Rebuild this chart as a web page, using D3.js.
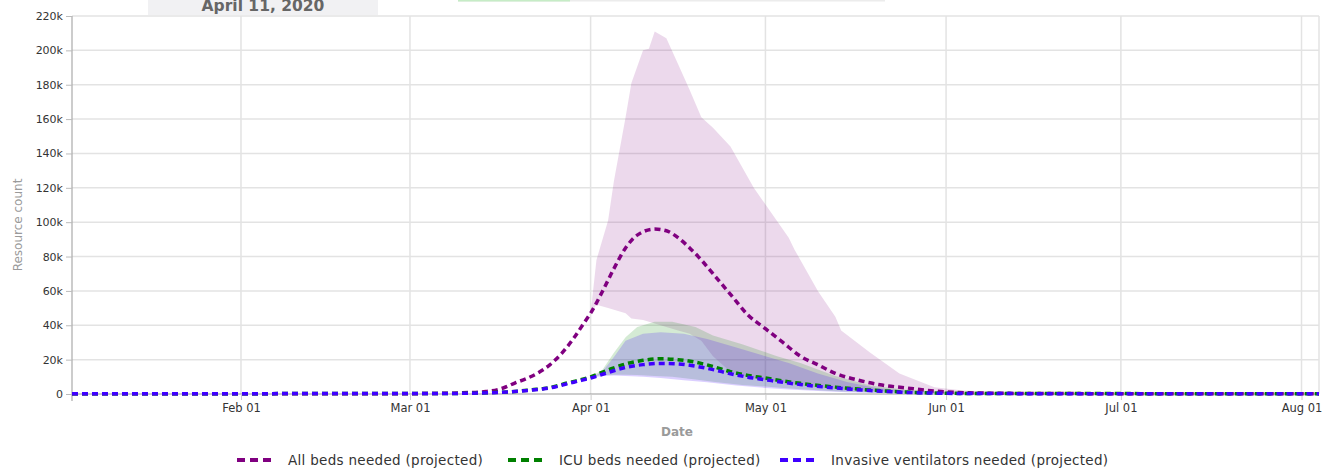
<!DOCTYPE html>
<html>
<head>
<meta charset="utf-8">
<script src="https://cdn.jsdelivr.net/npm/d3@7"></script>
<style>
  body { margin: 0; background: #fff; }
  svg { display: block; font-family: "DejaVu Sans", Verdana, sans-serif; }
</style>
</head>
<body>
<div id="chart"></div>
<script>
// Projected hospital resource use.
const xStart = "2020-01-03";
const xEnd = "2020-08-04";
const yTicks = [0, 20000, 40000, 60000, 80000, 100000, 120000, 140000, 160000, 180000, 200000, 220000];
const monthTicks = ["2020-02-01", "2020-03-01", "2020-04-01", "2020-05-01", "2020-06-01", "2020-07-01", "2020-08-01"];
const currentDateLabel = "April 11, 2020";

const seriesNames = ["All beds needed (projected)", "ICU beds needed (projected)", "Invasive ventilators needed (projected)"];
const seriesColors = ["#800080", "#008000", "#3f00ff"];

// mean lines: [date, value]
const allBedsMean = [
  ["2020-01-03", 200], ["2020-03-01", 200], ["2020-03-05", 300], ["2020-03-10", 700], ["2020-03-14", 1400],
  ["2020-03-17", 3500], ["2020-03-19", 6400], ["2020-03-21", 9000], ["2020-03-23", 12300], ["2020-03-25", 17000],
  ["2020-03-27", 23500], ["2020-03-29", 32000], ["2020-03-31", 42000], ["2020-04-01", 47000], ["2020-04-03", 59500],
  ["2020-04-05", 73000], ["2020-04-07", 85000], ["2020-04-09", 92500], ["2020-04-12", 96000], ["2020-04-14", 95000],
  ["2020-04-16", 91000], ["2020-04-18", 85000], ["2020-04-20", 78000], ["2020-04-22", 70000], ["2020-04-25", 58000],
  ["2020-04-28", 46000], ["2020-05-01", 38000], ["2020-05-04", 30000], ["2020-05-07", 22000], ["2020-05-10", 17000],
  ["2020-05-13", 12000], ["2020-05-17", 8000], ["2020-05-21", 5200], ["2020-05-25", 3600], ["2020-05-30", 1700],
  ["2020-06-05", 700], ["2020-06-15", 300], ["2020-07-01", 200], ["2020-08-04", 200]
];
const icuMean = [
  ["2020-01-03", 200], ["2020-03-05", 250], ["2020-03-10", 400], ["2020-03-15", 800], ["2020-03-19", 1500],
  ["2020-03-22", 2500], ["2020-03-24", 3200], ["2020-03-26", 4500], ["2020-03-28", 6400], ["2020-03-30", 8000],
  ["2020-04-01", 10000], ["2020-04-04", 14000], ["2020-04-07", 17500], ["2020-04-10", 19600], ["2020-04-13", 20500],
  ["2020-04-16", 20000], ["2020-04-19", 18500], ["2020-04-22", 16000], ["2020-04-25", 13000], ["2020-04-28", 10800],
  ["2020-05-01", 9300], ["2020-05-04", 7600], ["2020-05-07", 6200], ["2020-05-13", 4000], ["2020-05-19", 2300],
  ["2020-05-25", 1100], ["2020-05-31", 500], ["2020-06-10", 250], ["2020-08-04", 200]
];
const ventMean = [
  ["2020-01-03", 200], ["2020-03-05", 250], ["2020-03-10", 400], ["2020-03-15", 750], ["2020-03-19", 1400],
  ["2020-03-22", 2300], ["2020-03-24", 3000], ["2020-03-26", 4200], ["2020-03-28", 6000], ["2020-03-30", 7600],
  ["2020-04-01", 9300], ["2020-04-04", 12500], ["2020-04-07", 15500], ["2020-04-10", 17100], ["2020-04-13", 17800],
  ["2020-04-16", 17500], ["2020-04-19", 16200], ["2020-04-22", 14200], ["2020-04-25", 11800], ["2020-04-28", 9800],
  ["2020-05-01", 8300], ["2020-05-04", 6800], ["2020-05-07", 5500], ["2020-05-13", 3500], ["2020-05-19", 2000],
  ["2020-05-25", 950], ["2020-05-31", 450], ["2020-06-10", 220], ["2020-08-04", 200]
];

// uncertainty bands: [date, lower, upper]
const allBedsBand = [
  ["2020-04-01", 47000, 47000], ["2020-04-02", 52000, 78000], ["2020-04-04", 50000, 101000], ["2020-04-05", 49000, 124000],
  ["2020-04-07", 47000, 161000], ["2020-04-08", 44000, 181000], ["2020-04-10", 43000, 200000], ["2020-04-11", 42000, 201000],
  ["2020-04-12", 41000, 211000], ["2020-04-14", 39000, 207000], ["2020-04-16", 37000, 192000], ["2020-04-18", 35000, 177000],
  ["2020-04-20", 31000, 161000], ["2020-04-22", 22000, 155000], ["2020-04-25", 13000, 144000], ["2020-04-29", 9000, 120000],
  ["2020-05-05", 6000, 91000], ["2020-05-06", 5500, 84000], ["2020-05-10", 4000, 60000], ["2020-05-13", 3000, 45000],
  ["2020-05-14", 2700, 37000], ["2020-05-19", 1800, 24000], ["2020-05-24", 1100, 12000], ["2020-05-30", 600, 4000],
  ["2020-06-04", 300, 2000], ["2020-06-15", 200, 500], ["2020-08-04", 200, 200]
];
const icuBand = [
  ["2020-04-01", 10000, 10000], ["2020-04-03", 11000, 14000], ["2020-04-05", 11200, 24000], ["2020-04-07", 11200, 33000],
  ["2020-04-09", 11000, 39000], ["2020-04-12", 10500, 42000], ["2020-04-15", 10000, 42000], ["2020-04-19", 8500, 39000],
  ["2020-04-22", 7200, 34000], ["2020-04-27", 5300, 29000], ["2020-05-03", 3800, 22000], ["2020-05-07", 2800, 18000],
  ["2020-05-13", 1600, 10500], ["2020-05-19", 900, 5000], ["2020-05-25", 500, 2500], ["2020-06-01", 300, 1000],
  ["2020-06-10", 200, 400], ["2020-08-04", 200, 200]
];
const ventBand = [
  ["2020-04-01", 9300, 9300], ["2020-04-03", 10500, 13000], ["2020-04-05", 10800, 21500], ["2020-04-07", 10500, 31000],
  ["2020-04-10", 10000, 35000], ["2020-04-13", 9300, 36000], ["2020-04-17", 8000, 35000], ["2020-04-21", 6800, 32000],
  ["2020-04-26", 5000, 27000], ["2020-05-01", 3500, 22000], ["2020-05-05", 2600, 18000], ["2020-05-10", 1700, 12000],
  ["2020-05-15", 1000, 7000], ["2020-05-20", 600, 3500], ["2020-05-27", 350, 1500], ["2020-06-05", 200, 500],
  ["2020-06-15", 200, 200], ["2020-08-04", 200, 200]
];

const W = 1325, H = 476;
const margin = { top: 16, right: 6, bottom: 82, left: 72 };
const parse = d3.timeParse("%Y-%m-%d");

const svg = d3.select("#chart").append("svg")
    .attr("width", W)
    .attr("height", H)
    .attr("viewBox", [0, 0, W, H]);

const x = d3.scaleTime()
    .domain([parse(xStart), parse(xEnd)])
    .range([margin.left, W - margin.right]);

const y = d3.scaleLinear()
    .domain([0, 220000])
    .range([H - margin.bottom, margin.top]);

// grid
svg.append("g")
    .attr("stroke", "#e3e3e3")
    .attr("stroke-width", 1.5)
  .selectAll("line")
  .data(yTicks.slice(1))
  .join("line")
    .attr("x1", margin.left).attr("x2", W - margin.right)
    .attr("y1", d => y(d)).attr("y2", d => y(d));

svg.append("g")
    .attr("stroke", "#e3e3e3")
    .attr("stroke-width", 1.5)
  .selectAll("line")
  .data(monthTicks.map(parse).concat([parse(xEnd)]))
  .join("line")
    .attr("x1", d => x(d)).attr("x2", d => x(d))
    .attr("y1", margin.top).attr("y2", y(0));

// bands
const bandArea = d3.area()
    .x(d => x(parse(d[0])))
    .y0(d => y(d[1]))
    .y1(d => y(d[2]));

const bands = [allBedsBand, icuBand, ventBand];
const bandOpacity = [0.15, 0.17, 0.19];
svg.append("g")
  .selectAll("path")
  .data(bands)
  .join("path")
    .attr("d", bandArea)
    .attr("fill", (d, i) => seriesColors[i])
    .attr("fill-opacity", (d, i) => bandOpacity[i]);

// axes
const yAxis = svg.append("g")
    .attr("transform", `translate(${margin.left},0)`)
    .call(d3.axisLeft(y).tickValues(yTicks).tickSize(6).tickPadding(3)
        .tickFormat(d => d === 0 ? "0" : d / 1000 + "k"));
yAxis.select(".domain").attr("stroke", "#aaa").attr("stroke-width", 1.2)
    .attr("d", `M0,${margin.top}V${y(0) + 7}`);
yAxis.selectAll(".tick line").attr("stroke", "#bbb");
yAxis.selectAll("text").attr("fill", "#333").attr("font-size", 11)
    .attr("font-family", "DejaVu Sans");

const xAxis = svg.append("g")
    .attr("transform", `translate(0,${y(0)})`)
    .call(d3.axisBottom(x).tickValues(monthTicks.map(parse)).tickSize(6).tickPadding(4)
        .tickFormat(d3.timeFormat("%b %d")));
xAxis.select(".domain").attr("stroke", "#999").attr("stroke-width", 1.2)
    .attr("d", `M${margin.left},0H${W - margin.right}`);
xAxis.selectAll(".tick line").attr("stroke", "#ccc");
xAxis.selectAll("text").attr("fill", "#333").attr("font-size", 11.5)
    .attr("font-family", "DejaVu Sans");

// mean lines
const meanLine = d3.line()
    .x(d => x(parse(d[0])))
    .y(d => y(d[1]))
    .curve(d3.curveMonotoneX);

const means = [allBedsMean, icuMean, ventMean];
svg.append("g")
    .attr("fill", "none")
    .attr("stroke-width", 3.5)
    .attr("stroke-dasharray", "6,4")
  .selectAll("path")
  .data(means)
  .join("path")
    .attr("d", meanLine)
    .attr("stroke", (d, i) => seriesColors[i]);

// axis titles
svg.append("text")
    .attr("transform", "translate(22,225) rotate(-90)")
    .attr("text-anchor", "middle")
    .attr("fill", "#9a9a9a")
    .attr("font-size", 12)
    .text("Resource count");

svg.append("text")
    .attr("x", 677)
    .attr("y", 436)
    .attr("text-anchor", "middle")
    .attr("fill", "#9a9a9a")
    .attr("font-size", 12)
    .attr("font-weight", "bold")
    .text("Date");

// legend
const legendX = [237, 508, 780];
const legend = svg.append("g")
  .selectAll("g")
  .data(seriesNames)
  .join("g")
    .attr("transform", (d, i) => `translate(${legendX[i]},460)`);
legend.append("line")
    .attr("x1", 0).attr("x2", 34)
    .attr("stroke", (d, i) => seriesColors[i])
    .attr("stroke-width", 4)
    .attr("stroke-dasharray", "8,5");
legend.append("text")
    .attr("x", 51)
    .attr("dy", "0.35em")
    .attr("fill", "#333")
    .attr("font-size", 13.5)
    .attr("letter-spacing", 0.3)
    .text(d => d);

// current-date box and slider at the top
svg.append("rect")
    .attr("x", 148).attr("y", -2)
    .attr("width", 230).attr("height", 17)
    .attr("fill", "#f1f1f3");
svg.append("text")
    .attr("x", 263).attr("y", 11)
    .attr("text-anchor", "middle")
    .attr("fill", "#666")
    .attr("font-size", 15.5)
    .attr("font-weight", "bold")
    .text(currentDateLabel);

svg.append("rect")
    .attr("x", 458).attr("y", -1)
    .attr("width", 427).attr("height", 2.5)
    .attr("fill", "#ececec");
svg.append("rect")
    .attr("x", 458).attr("y", -1)
    .attr("width", 112).attr("height", 2.5)
    .attr("fill", "#c6ecc6");
</script>
</body>
</html>
